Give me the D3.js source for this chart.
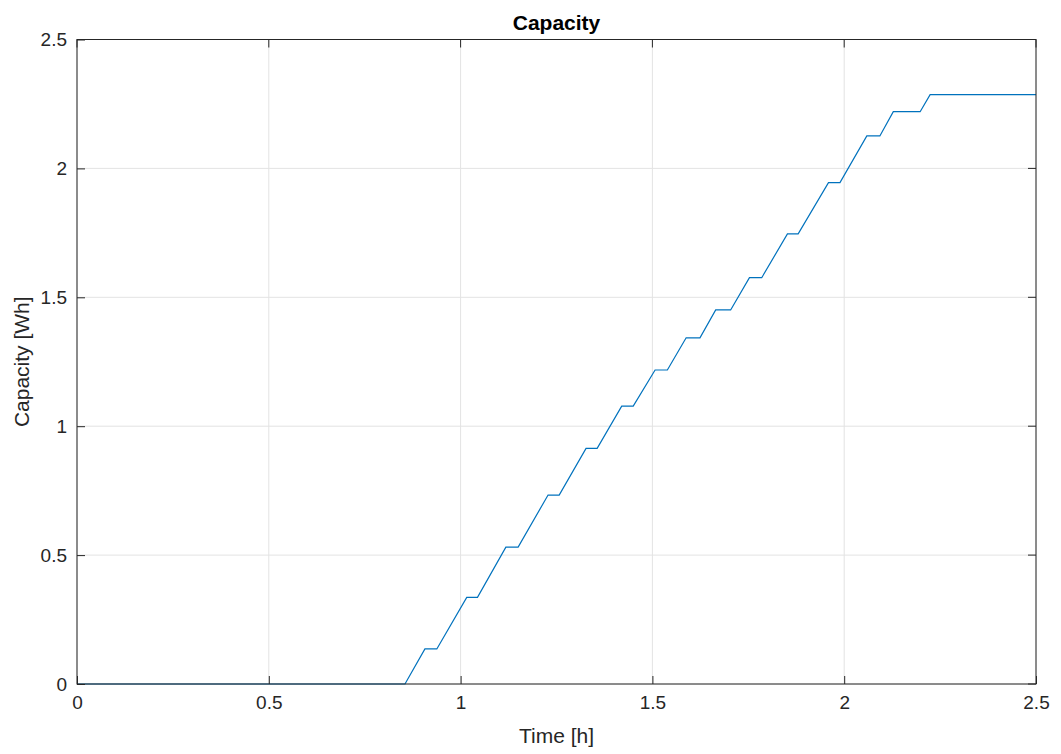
<!DOCTYPE html>
<html>
<head>
<meta charset="utf-8">
<script src="https://cdn.jsdelivr.net/npm/d3@7"></script>
<style>
  body { margin: 0; background: #fff; }
  svg { font-family: "Liberation Sans", Arial, sans-serif; }
</style>
</head>
<body>
<div id="chart"></div>
<script>
// capacity.js

const width = 1061;
const height = 754;
const margin = { top: 39.5, right: 25, bottom: 70, left: 77 };

// Step vertices
const timeH = [0, 0.855, 0.907, 0.938, 1.016, 1.044, 1.118, 1.150, 1.228, 1.257,
  1.327, 1.356, 1.420, 1.450, 1.507, 1.539, 1.588, 1.624, 1.665, 1.704,
  1.753, 1.785, 1.852, 1.880, 1.959, 1.989, 2.059, 2.093, 2.128, 2.198,
  2.224, 2.5];
const capacityWh = [0, 0, 0.136, 0.136, 0.336, 0.336, 0.531, 0.531, 0.733, 0.733,
  0.914, 0.914, 1.078, 1.078, 1.218, 1.218, 1.343, 1.343, 1.451, 1.451,
  1.576, 1.576, 1.746, 1.746, 1.945, 1.945, 2.126, 2.126, 2.220, 2.220,
  2.286, 2.286];

const xTicks = [0, 0.5, 1, 1.5, 2, 2.5];
const yTicks = [0, 0.5, 1, 1.5, 2, 2.5];

const axisColor = "#262626";
const tickLen = 8;

const svg = d3.select("#chart")
  .append("svg")
  .attr("width", width)
  .attr("height", height);

const x = d3.scaleLinear()
  .domain([0, 2.5])
  .range([margin.left, width - margin.right]);

const y = d3.scaleLinear()
  .domain([0, 2.5])
  .range([height - margin.bottom, margin.top]);

const [x0, x1] = x.range();
const [y0, y1] = y.range();

// Grid
svg.append("g")
  .selectAll("line")
  .data(xTicks)
  .enter()
  .append("line")
  .attr("x1", d => x(d))
  .attr("x2", d => x(d))
  .attr("y1", y0)
  .attr("y2", y1)
  .attr("stroke", "#e3e3e3");

svg.append("g")
  .selectAll("line")
  .data(yTicks)
  .enter()
  .append("line")
  .attr("x1", x0)
  .attr("x2", x1)
  .attr("y1", d => y(d))
  .attr("y2", d => y(d))
  .attr("stroke", "#e3e3e3");

// Data line
const points = timeH.map((t, i) => [t, capacityWh[i]]);
svg.append("path")
  .datum(points)
  .attr("fill", "none")
  .attr("stroke", "#0072BD")
  .attr("stroke-width", 1.2)
  .attr("d", d3.line().x(d => x(d[0])).y(d => y(d[1])));

// Axes: inward ticks, box
const xAxis = d3.axisBottom(x)
  .tickValues(xTicks)
  .tickFormat(d3.format("~g"))
  .tickSizeInner(-tickLen)
  .tickSizeOuter(0)
  .tickPadding(12);

const yAxis = d3.axisLeft(y)
  .tickValues(yTicks)
  .tickFormat(d3.format("~g"))
  .tickSizeInner(-tickLen)
  .tickSizeOuter(0)
  .tickPadding(10);

const gx = svg.append("g")
  .attr("transform", `translate(0,${y0})`)
  .call(xAxis);

const gy = svg.append("g")
  .attr("transform", `translate(${x0},0)`)
  .call(yAxis);

[gx, gy].forEach(g => {
  g.select(".domain").remove();
  g.selectAll("line").attr("stroke", axisColor);
  g.selectAll("text")
    .attr("fill", axisColor)
    .attr("font-size", 19);
});

// Top/right ticks (MATLAB box style)
svg.append("g")
  .selectAll("line")
  .data(xTicks)
  .enter()
  .append("line")
  .attr("x1", d => x(d))
  .attr("x2", d => x(d))
  .attr("y1", y1)
  .attr("y2", y1 + tickLen)
  .attr("stroke", axisColor);

svg.append("g")
  .selectAll("line")
  .data(yTicks)
  .enter()
  .append("line")
  .attr("x1", x1)
  .attr("x2", x1 - tickLen)
  .attr("y1", d => y(d))
  .attr("y2", d => y(d))
  .attr("stroke", axisColor);

svg.append("rect")
  .attr("x", x0)
  .attr("y", y1)
  .attr("width", x1 - x0)
  .attr("height", y0 - y1)
  .attr("fill", "none")
  .attr("stroke", axisColor)
  .attr("stroke-width", 1);

// Labels
svg.append("text")
  .attr("x", (x0 + x1) / 2)
  .attr("y", 30)
  .attr("text-anchor", "middle")
  .attr("font-size", 21)
  .attr("font-weight", "bold")
  .attr("fill", "#000")
  .text("Capacity");

svg.append("text")
  .attr("x", (x0 + x1) / 2)
  .attr("y", 743)
  .attr("text-anchor", "middle")
  .attr("font-size", 21)
  .attr("fill", axisColor)
  .text("Time [h]");

svg.append("text")
  .attr("transform", `translate(29,${(y0 + y1) / 2}) rotate(-90)`)
  .attr("text-anchor", "middle")
  .attr("font-size", 21)
  .attr("fill", axisColor)
  .text("Capacity [Wh]");
</script>
</body>
</html>
